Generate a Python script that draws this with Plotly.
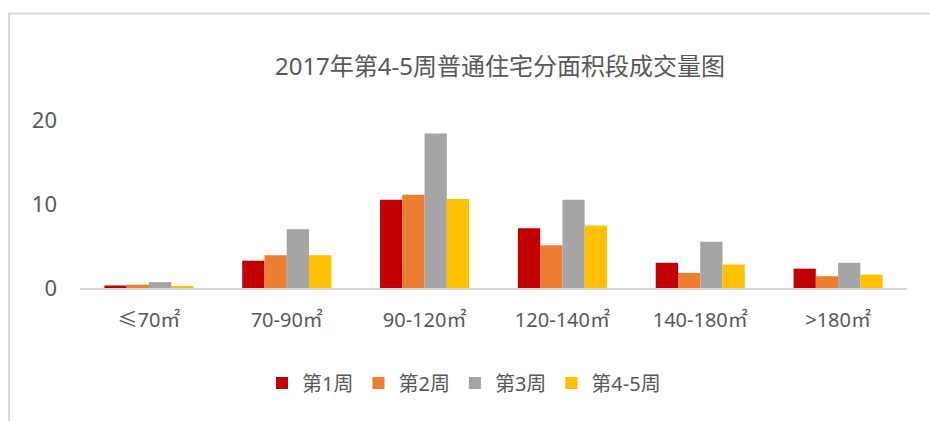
import plotly.graph_objects as go

categories = ["≤70㎡", "70-90㎡", "90-120㎡", "120-140㎡", "140-180㎡", ">180㎡"]
series_names = ["第1周", "第2周", "第3周", "第4-5周"]
week1 = [0.3, 3.25, 10.5, 7.1, 3.0, 2.3]
week2 = [0.4, 3.9, 11.1, 5.1, 1.8, 1.4]
week3 = [0.7, 7.0, 18.4, 10.5, 5.5, 3.0]
week45 = [0.2, 3.9, 10.6, 7.45, 2.8, 1.6]
colors = ["#C00000", "#ED7D31", "#A5A5A5", "#FFC000"]
title_text = "2017年第4-5周普通住宅分面积段成交量图"

FONT = "Noto Sans, Noto Sans CJK SC, sans-serif"
TXT = "#595959"

fig = go.Figure()
for name, vals, col in zip(series_names, [week1, week2, week3, week45], colors):
    fig.add_trace(go.Bar(x=categories, y=vals, name=name,
                         marker=dict(color=col, line=dict(width=0))))

L, R, T, B = 80, 23, 120, 133
W, H = 930, 421
pw, ph = W - L - R, H - T - B

def px_x(px):
    return (px - L) / pw

def px_y(py):
    return (H - B - py) / ph

border = dict(color="#D9D9D9", width=2)
shapes = [
    dict(type="line", xref="paper", yref="paper", x0=px_x(9), x1=px_x(9),
         y0=px_y(13), y1=px_y(430), line=border, layer="below"),
    dict(type="line", xref="paper", yref="paper", x0=px_x(8), x1=px_x(940),
         y0=px_y(13.5), y1=px_y(13.5), line=border, layer="below"),
]

fig.update_layout(
    width=W, height=H,
    margin=dict(l=L, r=R, t=T, b=B, autoexpand=False),
    paper_bgcolor="white", plot_bgcolor="white",
    barmode="group", bargap=0.354, bargroupgap=0,
    font=dict(family=FONT, color=TXT),
    title=dict(text=title_text, font=dict(size=24, color=TXT, family=FONT),
               x=500 / W, xref="container", xanchor="center",
               y=1 - 67 / H, yref="container", yanchor="middle"),
    xaxis=dict(showline=True, linecolor="#D9D9D9", linewidth=2,
               showgrid=False, ticks="", tickfont=dict(size=20, color=TXT),
               ticklabelstandoff=13),
    yaxis=dict(range=[0, 20], tickvals=[0, 10, 20], showgrid=False,
               zeroline=False, showline=False, ticks="",
               tickfont=dict(size=22, color=TXT), ticklabelstandoff=22),
    legend=dict(orientation="h", xref="container", x=464 / W, xanchor="center",
                yref="container", y=1 - 383 / H, yanchor="middle",
                font=dict(size=20, color=TXT), itemclick=False,
                tracegroupgap=0),
    shapes=shapes,
    showlegend=True,
)

fig.write_html("out.html", config={"displayModeBar": False},
               post_script="document.body.style.margin='0';document.body.style.overflow='hidden';")
